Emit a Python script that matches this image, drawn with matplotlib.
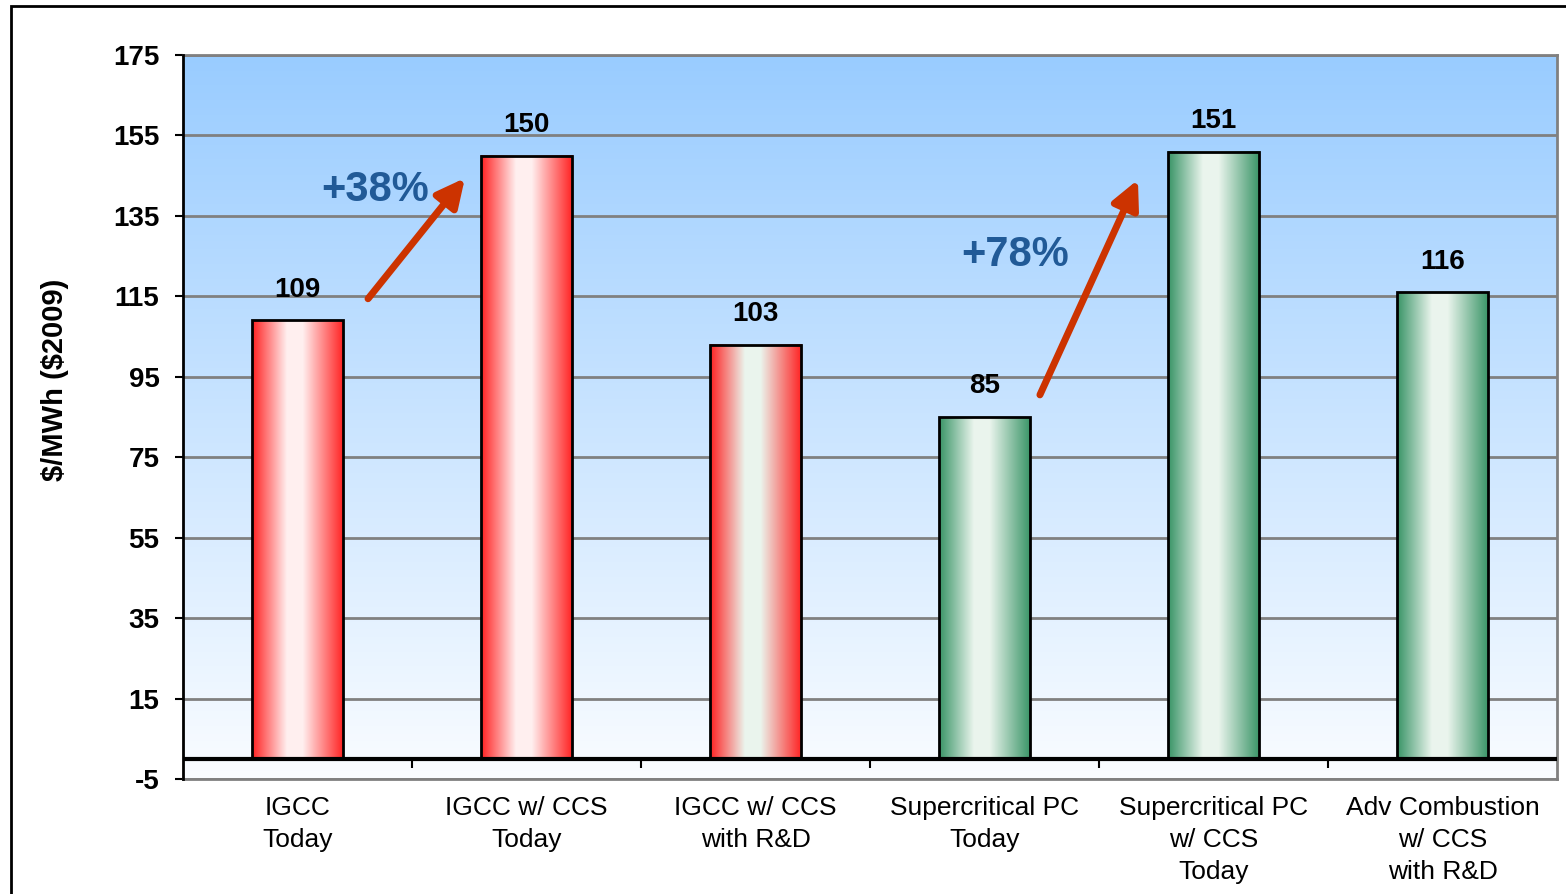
import numpy as np
import matplotlib
matplotlib.use("Agg")
import matplotlib.pyplot as plt
from matplotlib.colors import LinearSegmentedColormap
from matplotlib.patches import Rectangle

# ---- data -------------------------------------------------------------
categories = [
    "IGCC\nToday",
    "IGCC w/ CCS\nToday",
    "IGCC w/ CCS\nwith R&D",
    "Supercritical PC\nToday",
    "Supercritical PC\nw/ CCS\nToday",
    "Adv Combustion\nw/ CCS\nwith R&D",
]
costs = [109, 150, 103, 85, 151, 116]
bar_styles = ["red", "red", "mixed", "green", "green", "green"]
y_ticks = list(range(-5, 176, 20))

# ---- style ------------------------------------------------------------
plt.rcParams["font.family"] = ["Liberation Sans", "DejaVu Sans"]
plt.rcParams["text.parse_math"] = False

RED_EDGE = (1.0, 0.13, 0.13)
RED_MID = (1.0, 0.94, 0.94)
GRN_EDGE = (0.22, 0.58, 0.40)
GRN_MID = (0.92, 0.96, 0.93)

def bar_cmap(edge, mid, edge_r=None):
    edge_r = edge if edge_r is None else edge_r
    return LinearSegmentedColormap.from_list(
        "b", [(0.0, edge), (0.38, mid), (0.55, mid), (1.0, edge_r)])

cmaps = {
    "red": bar_cmap(RED_EDGE, RED_MID),
    "green": bar_cmap(GRN_EDGE, GRN_MID),
    "mixed": bar_cmap(RED_EDGE, GRN_MID),
}

fig = plt.figure(figsize=(15.66, 8.94), dpi=100)
fig.patch.set_facecolor("white")
ax = fig.add_axes([183 / 1566, 1 - 779 / 894, 1374 / 1566, 724 / 894])

x = np.arange(len(categories))
ax.set_xlim(-0.5, len(categories) - 0.5)
ax.set_ylim(-5, 175)

# plot-area background: light blue at top fading to white
bg = LinearSegmentedColormap.from_list(
    "bg", [(0.0, (0.98, 0.99, 1.0)), (1.0, (0.60, 0.80, 1.0))])
grad = np.linspace(0, 1, 256).reshape(-1, 1)
ax.imshow(grad, cmap=bg, origin="lower", aspect="auto",
          extent=[-0.5, len(categories) - 0.5, -5, 175], zorder=0)

# gridlines
for t in y_ticks:
    ax.axhline(t, color="#808080", lw=2, zorder=1)

# bars with horizontal gradient fill
width = 0.4
bars = ax.bar(x, costs, width=width, facecolor="none", edgecolor="black",
              linewidth=2, zorder=3)
hgrad = np.linspace(0, 1, 256).reshape(1, -1)
for b, style in zip(bars, bar_styles):
    x0, y0 = b.get_x(), b.get_y()
    ax.imshow(hgrad, cmap=cmaps[style], aspect="auto",
              extent=[x0, x0 + b.get_width(), y0, y0 + b.get_height()],
              zorder=2)

# zero baseline
ax.axhline(0, color="black", lw=3, zorder=4)
# category separator ticks below the baseline
ax.vlines(np.arange(0.5, len(categories) - 0.5, 1.0), -2.2, 0,
          color="black", lw=1.5, zorder=4)

# value labels
for xi, v in zip(x, costs):
    ax.annotate(str(v), (xi, v), xytext=(0, 22), textcoords="offset points",
                ha="center", va="center", fontsize=20, fontweight="bold",
                zorder=5)

# spines
for side in ("top", "right", "bottom"):
    ax.spines[side].set_color("#808080")
    ax.spines[side].set_linewidth(2)
ax.spines["left"].set_color("black")
ax.spines["left"].set_linewidth(2)
ax.spines["left"].set_zorder(6)

# ticks
ax.set_yticks(y_ticks)
ax.set_yticklabels([str(t) for t in y_ticks], fontsize=20, fontweight="bold")
ax.tick_params(axis="y", direction="out", length=6, width=1.5,
               color="black", pad=11)
ax.set_xticks(x)
ax.set_xticklabels(categories, fontsize=19, linespacing=1.42)
ax.tick_params(axis="x", length=0, pad=12)

fig.text(55 / 1566, 1 - 380 / 894, "$/MWh ($2009)", rotation=90,
         ha="center", va="center", fontsize=21, fontweight="bold")

# percentage-increase callouts
arrow_kw = dict(arrowstyle="-|>,head_length=0.85,head_width=0.42",
                color="#CC3300", lw=5, mutation_scale=20,
                shrinkA=0, shrinkB=0)
ax.annotate("", xy=(0.731, 144.4), xytext=(0.308, 114.4),
            arrowprops=arrow_kw, zorder=5)
ax.annotate("", xy=(3.670, 144.0), xytext=(3.242, 90.5),
            arrowprops=arrow_kw, zorder=5)
ax.text(0.338, 141.5, "+38%", ha="center", va="center", fontsize=30,
        fontweight="bold", color="#215A97", zorder=5)
ax.text(3.133, 125.3, "+78%", ha="center", va="center", fontsize=30,
        fontweight="bold", color="#215A97", zorder=5)

# outer frame around the whole chart
fig.patches.append(Rectangle((11 / 1566, -0.1), 1.2, 1.1 - 6 / 894,
                             transform=fig.transFigure, fill=False,
                             edgecolor="black", lw=2))

fig.savefig("out.png", dpi=100)
